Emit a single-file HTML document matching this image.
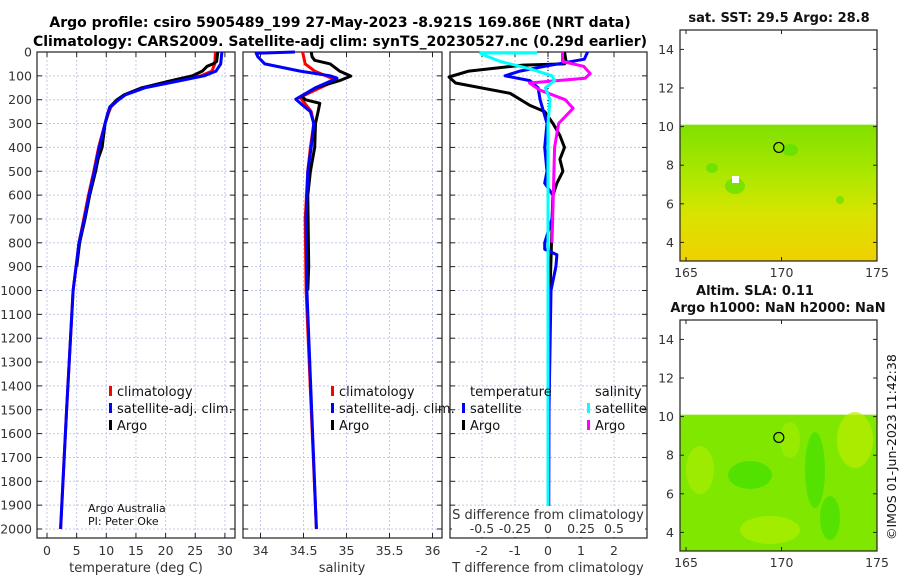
<!DOCTYPE html>
<html><head><meta charset="utf-8"><style>
body{margin:0;background:#fff}
svg{display:block;font-family:"DejaVu Sans","Liberation Sans",sans-serif}
</style></head><body>
<svg id="c" width="900" height="580" viewBox="0 0 900 580">
<text x="340" y="27" text-anchor="middle" font-weight="bold" font-size="14">Argo profile: csiro 5905489_199 27-May-2023 -8.921S 169.86E (NRT data)</text>
<text x="340" y="46" text-anchor="middle" font-weight="bold" font-size="14">Climatology: CARS2009. Satellite-adj clim: synTS_20230527.nc (0.29d earlier)</text>
<g id="g"></g>
</svg>
<script>
// depth axis
const depthTicks=[0,100,200,300,400,500,600,700,800,900,1000,1100,1200,1300,1400,1500,1600,1700,1800,1900,2000];
// temperature panel
const tTicks=[0,5,10,15,20,25,30];
const tDepth=[0,50,80,100,120,150,180,200,230,260,300,400,500,600,700,800,900,1000,1500,2000];
const tClim=[28.4,28.3,27.8,26,22,16,13,12,10.8,10.3,9.8,8.7,7.9,7,6.2,5.4,4.9,4.4,3.3,2.3];
const tSat=[29.5,29.3,28.5,26.5,22.5,16.5,13.2,12.1,10.6,10.2,9.8,8.8,8,7.1,6.3,5.4,4.9,4.4,3.3,2.3];
const tArgoD=[0,40,50,60,80,100,120,150,180,200,230,300,400,450,500,600,700,800,900];
const tArgo=[28.8,28.6,28.0,27,26.2,24.5,21,16,13,11.8,10.6,9.8,9.3,8.6,8.2,7.2,6.4,5.5,5.0];
// salinity panel
const sTicks=[34,34.5,35,35.5,36];
const sClimD=[0,50,80,118,190,250,300,400,500,700,1000,2000];
const sClim=[34.49,34.52,34.63,34.88,34.46,34.59,34.62,34.58,34.55,34.52,34.53,34.65];
const sSatD=[0,5,20,50,80,100,110,150,198,220,250,300,400,500,700,1000,2000];
const sSat=[34.4,33.95,33.97,34.05,34.46,34.81,34.89,34.64,34.41,34.48,34.58,34.62,34.59,34.55,34.53,34.54,34.65];
const sArgoD=[0,20,35,50,80,101,120,150,185,200,215,250,300,400,500,600,900,1000];
const sArgo=[34.59,34.6,34.63,34.81,34.92,35.05,34.92,34.64,34.48,34.52,34.69,34.67,34.64,34.63,34.58,34.55,34.56,34.55];
// difference panel
const dTicks=[-2,-1,0,1,2];
const sDiffLabels=["-0.5","-0.25","0","0.25","0.5"];
const dTArgoD=[0,40,50,55,80,105,130,173,224,250,300,350,400,450,500,550,600,1000];
const dTArgo=[0.5,0.55,0.5,-0.76,-2.4,-3,-2.8,-1.15,-0.55,-0.1,0.15,0.36,0.5,0.36,0.45,0.27,0.15,0.06];
const dTSatD=[0,30,60,80,100,120,150,200,300,400,500,550,600,700,800,827,850,900,1000,1500,2000];
const dTSat=[1.2,1.1,-0.1,-0.85,-1.3,-0.55,-0.3,-0.24,-0.03,-0.1,-0.03,-0.1,0.15,0.12,-0.1,-0.1,0.27,0.24,0.09,0.03,0.02];
const dSSatD=[0,10,40,70,100,120,150,200,300,500,1000,2000];
const dSSat=[-0.52,-0.5,-0.36,-0.14,0.03,0.05,-0.02,0.015,0,0,0,0];
const dSArgoD=[0,40,60,90,110,130,160,200,236,300,400,600,800];
const dSArgo=[0.11,0.11,0.27,0.32,0.28,-0.14,-0.06,0.13,0.19,0.08,0.05,0.04,0.03];
// maps
const lonTicks=[165,170,175];
const latTicks=[4,6,8,10,12,14];

const NS="http://www.w3.org/2000/svg",G=document.getElementById('g');
function el(t,a,p){const e=document.createElementNS(NS,t);for(const k in a)e.setAttribute(k,a[k]);(p||G).appendChild(e);return e;}
const Y0=52,YB=538,yd=d=>Y0+d*0.2385;
function panel(x0,x1,fx,ticks,labels,name){
  const g=el('g',{});
  
  
  depthTicks.forEach(d=>{el('line',{x1:x0,x2:x1,y1:yd(d),y2:yd(d),stroke:'#c4c8ea','stroke-dasharray':'2,2','stroke-width':1},g);
    el('line',{x1:x0,x2:x0+5,y1:yd(d),y2:yd(d),stroke:'#222'},g);el('line',{x1:x1-5,x2:x1,y1:yd(d),y2:yd(d),stroke:'#222'},g);});
  ticks.forEach((v,i)=>{const x=fx(v);el('line',{x1:x,x2:x,y1:Y0,y2:YB,stroke:'#c4c8ea','stroke-dasharray':'2,2'},g);
    el('line',{x1:x,x2:x,y1:YB-5,y2:YB,stroke:'#222'},g);el('line',{x1:x,x2:x,y1:Y0,y2:Y0+5,stroke:'#222'},g);
    const t=el('text',{x:x,y:YB+17,'text-anchor':'middle','font-size':12.5,fill:'#333'},g);t.textContent=labels?labels[i]:v;
    });
  el('rect',{x:x0,y:Y0,width:x1-x0,height:YB-Y0,fill:'none',stroke:'#222','stroke-width':1.2},g);
  return g;
}
function line(D,V,fx,col,w,name,g){
  const p=el('polyline',{points:D.map((d,i)=>fx(V[i]).toFixed(1)+','+yd(d).toFixed(1)).join(' '),fill:'none',stroke:col,'stroke-width':w,'stroke-linejoin':'round'},g);
  
}
function txt(x,y,s,fs,name,extra){const t=el('text',Object.assign({x:x,y:y,'font-size':fs,fill:'#111'},extra||{}));t.textContent=s;
  return t;}
// panel 1
const fT=v=>47+v*5.93;
const p1=panel(37,235,fT,tTicks,null,'temperature-panel');
depthTicks.forEach(d=>{txt(32,yd(d)+4.5,String(d),12.5,'y-tick-label',{'text-anchor':'end',fill:'#333'});});
line(tDepth,tClim,fT,'#f00',3,'temp-climatology-line',p1);
line(tArgoD,tArgo,fT,'#000',3,'temp-argo-line',p1);
line(tDepth,tSat,fT,'#00f',3,'temp-satellite-line',p1);
txt(136,572,'temperature (deg C)',13,'x-axis-title',{'text-anchor':'middle',fill:'#333'});
// panel 2
const fS=v=>260.5+(v-34)*86;
const p2=panel(243,442,fS,sTicks,null,'salinity-panel');
line(sClimD,sClim,fS,'#f00',3,'sal-climatology-line',p2);
line(sArgoD,sArgo,fS,'#000',3,'sal-argo-line',p2);
line(sSatD,sSat,fS,'#00f',3,'sal-satellite-line',p2);
txt(342,572,'salinity',13,'x-axis-title-salinity',{'text-anchor':'middle',fill:'#333'});
// panel 3
const fD=v=>548+v*33, fDS=v=>548+v*132;
const p3=panel(450,647,fD,dTicks,null,'difference-panel');
el('line',{x1:548,x2:548,y1:Y0,y2:YB,stroke:'#000','stroke-dasharray':'1,2'},p3);
line(dTArgoD,dTArgo.map(v=>Math.max(v,-3)),fD,'#000',3,'tdiff-argo-line',p3);
line(dTSatD,dTSat,fD,'#00f',3,'tdiff-satellite-line',p3);
line(dSArgoD,dSArgo,fDS,'#f0f',3,'sdiff-argo-line',p3);
line(dSSatD,dSSat,fDS,'#0ff',3,'sdiff-satellite-line',p3);
el('line',{x1:480,x2:537,y1:53,y2:53,stroke:'#0ff','stroke-width':3});
el('rect',{x:452,y:506,width:193,height:31,fill:'#fff'});
txt(548,519,'S difference from climatology',13,'s-axis-title',{'text-anchor':'middle',fill:'#333'});
dTicks.forEach((v,i)=>{txt(fD(v),533,sDiffLabels[i],12.5,'s-tick-label',{'text-anchor':'middle',fill:'#333'});});
txt(548,572,'T difference from climatology',13,'t-axis-title',{'text-anchor':'middle',fill:'#333'});
// legends
function leg(x,y,col,s,name){el('rect',{x:x,y:y-9,width:3,height:10,fill:col});txt(x+8,y+1,s,13,name);}
leg(109,395,'#f00','climatology','legend-climatology');leg(109,412,'#00f','satellite-adj. clim.','legend-satellite');leg(109,429,'#000','Argo','legend-argo');
leg(331,395,'#f00','climatology','legend2-climatology');leg(331,412,'#00f','satellite-adj. clim.','legend2-satellite');leg(331,429,'#000','Argo','legend2-argo');
txt(470,396,'temperature',13,'legend-temperature-header');txt(595,396,'salinity',13,'legend-salinity-header');
leg(462,412,'#00f','satellite','legend3-t-satellite');leg(462,429,'#000','Argo','legend3-t-argo');
leg(587,412,'#0ff','satellite','legend3-s-satellite');leg(587,429,'#f0f','Argo','legend3-s-argo');
txt(88,512,'Argo Australia',11,'credit-argo-australia');txt(88,525,'PI: Peter Oke',11,'credit-pi');
// maps
const defs=el('defs',{});
const lg=el('linearGradient',{id:'sst',x1:0,y1:0,x2:0,y2:1},defs);
[['0','#80e000'],['0.4','#b0e800'],['0.65','#d8e400'],['1','#f0d000']].forEach(s=>el('stop',{offset:s[0],'stop-color':s[1]},lg));
function map(yT,yBt,name,sla){
  const x0=680,x1=877,fx=v=>686+(v-165)*19.1,fy=v=>yBt-18.6-(v-4)*19.3;
  const g=el('g',{});
  const top=fy(10.1);
  if(!sla){el('rect',{x:x0,y:top,width:x1-x0,height:yBt-top,fill:'url(#sst)'},g);
    [[735,186,10,8],[712,168,6,5],[790,150,8,6],[840,200,4,4]].forEach(a=>el('ellipse',{cx:a[0],cy:a[1],rx:a[2],ry:a[3],fill:'#50e000',opacity:.6},g));
    el('rect',{x:732,y:176,width:7,height:7,fill:'#fff'},g);}
  else{el('rect',{x:x0,y:top,width:x1-x0,height:yBt-top,fill:'#80e800'},g);
    [[750,475,22,14,'#40e000'],[815,470,10,38,'#45e000'],[830,518,10,22,'#45e000'],[770,530,30,14,'#b0ee00'],[700,470,14,24,'#a8ec00'],[855,440,18,28,'#bcee00'],[790,440,10,18,'#a0ec00']].forEach(a=>el('ellipse',{cx:a[0],cy:a[1],rx:a[2],ry:a[3],fill:a[4],opacity:.7},g));}
  el('circle',{cx:fx(169.86),cy:fy(8.92),r:5,fill:'none',stroke:'#000','stroke-width':1.2},g);
  el('rect',{x:x0,y:yT,width:x1-x0,height:yBt-yT,fill:'none',stroke:'#222','stroke-width':1.2},g);
  lonTicks.forEach(v=>{el('line',{x1:fx(v),x2:fx(v),y1:yBt-4,y2:yBt,stroke:'#222'},g);el('line',{x1:fx(v),x2:fx(v),y1:yT,y2:yT+4,stroke:'#222'},g);
    txt(fx(v),yBt+16,String(v),12.5,'map-lon-label',{'text-anchor':'middle',fill:'#333'});});
  latTicks.forEach(v=>{el('line',{x1:x0,x2:x0+4,y1:fy(v),y2:fy(v),stroke:'#222'},g);el('line',{x1:x1-4,x2:x1,y1:fy(v),y2:fy(v),stroke:'#222'},g);
    txt(674,fy(v)+4.5,String(v),12.5,'map-lat-label',{'text-anchor':'end',fill:'#333'});});
}
map(30,261,'sst-map',false);
map(320,551,'sla-map',true);
txt(779,22,'sat. SST: 29.5 Argo: 28.8',13,'sst-map-title',{'text-anchor':'middle','font-weight':'bold'});
txt(755,295,'Altim. SLA: 0.11',13,'sla-title-line1',{'text-anchor':'middle','font-weight':'bold'});
txt(778,312,'Argo h1000: NaN h2000: NaN',13,'sla-title-line2',{'text-anchor':'middle','font-weight':'bold'});
txt(0,0,'©IMOS 01-Jun-2023 11:42:38',12.5,'timestamp',{transform:'translate(896,540) rotate(-90)',fill:'#111'});
</script>
</body></html>
